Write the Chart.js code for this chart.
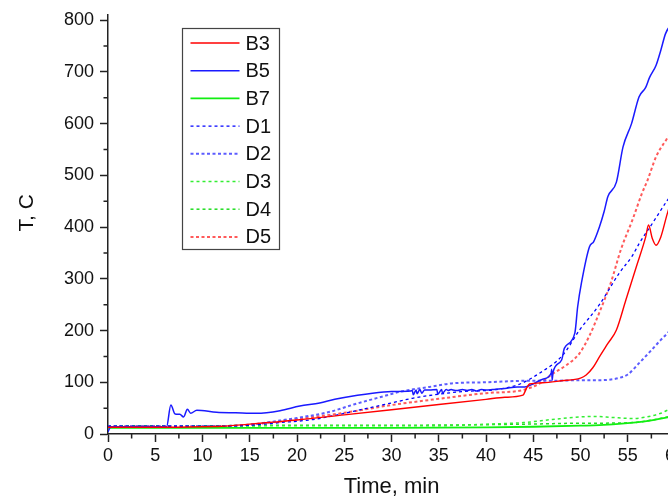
<!DOCTYPE html>
<html>
<head>
<meta charset="utf-8">
<script src="https://cdn.jsdelivr.net/npm/chart.js@4.4.1/dist/chart.umd.min.js"></script>
<style>
html,body{margin:0;padding:0;background:#fff;overflow:hidden;width:668px;height:502px;}
#wrap{width:690px;height:502px;}
</style>
</head>
<body>
<div id="wrap"><canvas id="c" width="690" height="502"></canvas></div>
<script>
// ---- data (time in min, temperature in C) ----
const seriesNames = ['B3','B5','B7','D1','D2','D3','D4','D5'];

const b3Time = [0,5,10,12,15,17.5,20,25,30,35,40,42,43.9,44.3,44.6,46,48,50,50.6,51.3,52.0,52.9,53.8,54.8,55.9,56.9,57.2,57.6,58.0,58.5,59.2,60];
const b3Temp = [13,13,14,15,19,23,27,37,47,57,67,71,75,89,96.6,99,103,108,114,128,149,175,201,259,323,381,404,378,365,381,427,470];

const b5Time = [0,0.3,0.6,3,6.2,6.65,7.1,7.6,8.0,8.4,8.75,9.4,11.5,13.5,15.7,18.2,20.3,22.4,24,26.4,28,30,32,32.2,32.3,32.6,32.7,33,33.2,33.5,34,34.8,34.9,35.3,35.4,35.8,36,36.3,36.5,37,37.5,38,38.5,39,39.5,40,40.7,42,43.3,44.1,44.9,46,46.9,46.95,47.0,47.1,48.0,48.3,49.4,49.7,50.1,50.95,51.4,52.0,52.5,52.9,53.8,54.5,55.4,56.2,56.9,57.3,58.0,58.5,59.0,59.5,60];
const b5Temp = [4,14,14,14,14,56,38.6,38,33,48,40,46,42,41,40,45,54,60,67,75,79,82,83,84,76,85,78,86,79,85,85,86,77,86,79,86,84,86,85,84,86,84,86,83,86,85,86,88,91,91,96,106,118,125,104,120,143,166,195,246,292,362,372,400,430,459,487,555,600,652,670,689,713,742,774,790,800];

const b7Time = [0,10,20,30,40,45,50,52,55,57,59.2,60];
const b7Temp = [12,12,12,12,13,14,16,17,21,25,32,34];

const d1Time = [0,10,15,18.2,21.7,24,27,30,32.2,35,37.5,41.1,43.5,45.7,48.1,49.9,52.0,54.1,55.5,56.2,57.6,59.2,60];
const d1Temp = [15,15,17,22,28,36,48,60,69,77,82,86,96,118,152,201,250,311,345,368,407,452,472];

const d2Time = [0,10,15,18.2,20,23.5,26,28.75,31,34,36.5,40,44.6,47,50,52,53,54,55,56.2,57.5,58.5,59.2,60];
const d2Temp = [15,15,18,26,31,43,57,71,82,91,98,100,103,103,104,104,105,108,115,137,162,182,195,212];

const d3Time = [0,10,20,30,35,40,43.9,47,49.9,51.5,53.4,55.5,57,58.5,59.2,60];
const d3Temp = [15,15,16,16,16,19,22,28,33,34,32,30,33,40,46,52];

const d4Time = [0,10,20,30,40,43.9,47,50,52,55.5,57,59.2,60];
const d4Temp = [16,16,17,17,18,19,20,21,21,22,25,33,36];

const d5Time = [0,10,14.3,17,20,25,30,35,40,43.9,45.8,47.1,48.5,49.9,50.95,52.0,53.2,54.3,55.5,56.5,57.1,58.0,59.05,60];
const d5Temp = [15,15,17,22,29,41,56,68,79,85,99,117,133,156,190,235,292,358,414,465,491,536,568,592];

const xTickValues = [0,5,10,15,20,25,30,35,40,45,50,55,60];
const yTickValues = [0,100,200,300,400,500,600,700,800];
const xMinorValues = [2.5,7.5,12.5,17.5,22.5,27.5,32.5,37.5,42.5,47.5,52.5,57.5];
const yMinorValues = [50,150,250,350,450,550,650,750];
const xMax = 60, yMax = 810;

// ---- styles ----
const styles = {
  B3:{color:'#ff0000', width:1.4, dash:[], tension:0.2},
  B5:{color:'#1a1aff', width:1.5, dash:[], tension:0.2},
  B7:{color:'#11ee11', width:1.8, dash:[], tension:0.3},
  D1:{color:'#0000ff', width:1.3, dash:[3,3], tension:0.3},
  D2:{color:'#5c5cff', width:2, dash:[3,2.5], tension:0.3},
  D3:{color:'#33ee33', width:1.5, dash:[3,3], tension:0.3},
  D4:{color:'#22dd22', width:1.5, dash:[3,3], tension:0.3},
  D5:{color:'#ff5a5a', width:2, dash:[3,2.5], tension:0.3}
};
const seriesData = {
  B3:[b3Time,b3Temp], B5:[b5Time,b5Temp], B7:[b7Time,b7Temp],
  D1:[d1Time,d1Temp], D2:[d2Time,d2Temp], D3:[d3Time,d3Temp],
  D4:[d4Time,d4Temp], D5:[d5Time,d5Temp]
};
const toPts = (xs, ys) => xs.map((x,i)=>({x:x, y:ys[i]}));

const datasets = seriesNames.map(n => ({
  label:n,
  data: toPts(seriesData[n][0], seriesData[n][1]),
  borderColor: styles[n].color,
  borderWidth: styles[n].width,
  borderDash: styles[n].dash,
  tension: styles[n].tension,
  cubicInterpolationMode: 'monotone',
  pointRadius:0,
  fill:false
}));

const FONT = "'Liberation Sans', Arial, sans-serif";
const AXIS = '#222';

const minorTicks = {
  id:'minorTicks',
  afterDraw(chart){
    const ctx = chart.ctx, xs = chart.scales.x, ys = chart.scales.y, a = chart.chartArea;
    ctx.save();
    ctx.strokeStyle = AXIS; ctx.lineWidth = 1.5;
    ctx.beginPath();
    xMinorValues.forEach(v => {
      const px = xs.getPixelForValue(v);
      ctx.moveTo(px, a.bottom); ctx.lineTo(px, a.bottom + 4.5);
    });
    yMinorValues.forEach(v => {
      const py = ys.getPixelForValue(v);
      ctx.moveTo(a.left, py); ctx.lineTo(a.left - 4.5, py);
    });
    ctx.stroke();
    ctx.restore();
  }
};

const boxLegend = {
  id:'boxLegend',
  afterDatasetsDraw(chart){
    const ctx = chart.ctx, a = chart.chartArea;
    const bx = a.left + 74.5, by = 28.5, bw = 97, bh = 221, row = 27.7;
    ctx.save();
    ctx.fillStyle = '#fff';
    ctx.fillRect(bx, by, bw, bh);
    ctx.strokeStyle = '#444'; ctx.lineWidth = 1.2;
    ctx.strokeRect(bx, by, bw, bh);
    ctx.font = '20px ' + FONT;
    ctx.textBaseline = 'middle';
    ctx.fillStyle = '#111';
    chart.data.datasets.forEach((ds, i) => {
      const cy = by + 14.5 + i*row;
      ctx.save();
      ctx.strokeStyle = ds.borderColor; ctx.lineWidth = ds.borderWidth;
      ctx.setLineDash(ds.borderDash || []);
      ctx.beginPath(); ctx.moveTo(bx + 8, cy); ctx.lineTo(bx + 57, cy); ctx.stroke();
      ctx.restore();
      ctx.fillText(ds.label, bx + 63, cy + 1);
    });
    ctx.restore();
  }
};

new Chart(document.getElementById('c'), {
  type:'line',
  data:{datasets},
  plugins:[minorTicks, boxLegend],
  options:{
    responsive:false,
    animation:false,
    layout:{padding:{left:0, right:15, top:15, bottom:0}},
    plugins:{legend:{display:false}, tooltip:{enabled:false}},
    scales:{
      x:{
        type:'linear', min:0, max:xMax,
        afterBuildTicks(s){ s.ticks = xTickValues.map(v => ({value:v})); },
        ticks:{color:'#111', font:{family:FONT, size:18}, padding:3, maxRotation:0, autoSkip:false},
        grid:{drawOnChartArea:false, drawTicks:true, tickLength:8, tickWidth:1.5, tickColor:AXIS},
        border:{display:true, color:AXIS, width:1.5},
        title:{display:true, text:'Time, min', color:'#111', font:{family:FONT, size:22}, padding:{top:0,bottom:2}},
        afterFit(s){ s.height = 68; s.paddingLeft = 0; s.paddingRight = 0; }
      },
      y:{
        type:'linear', min:0, max:yMax,
        afterBuildTicks(s){ s.ticks = yTickValues.map(v => ({value:v})); },
        ticks:{color:'#111', font:{family:FONT, size:18}, padding:6},
        grid:{drawOnChartArea:false, drawTicks:true, tickLength:8, tickWidth:1.5, tickColor:AXIS},
        border:{display:true, color:AXIS, width:1.5},
        title:{display:true, text:'    T, C', color:'#111', font:{family:FONT, size:21}, padding:{top:15,bottom:0}},
        afterFit(s){ s.width = 108; s.paddingTop = 0; s.paddingBottom = 0; }
      }
    }
  }
});
</script>
</body>
</html>
